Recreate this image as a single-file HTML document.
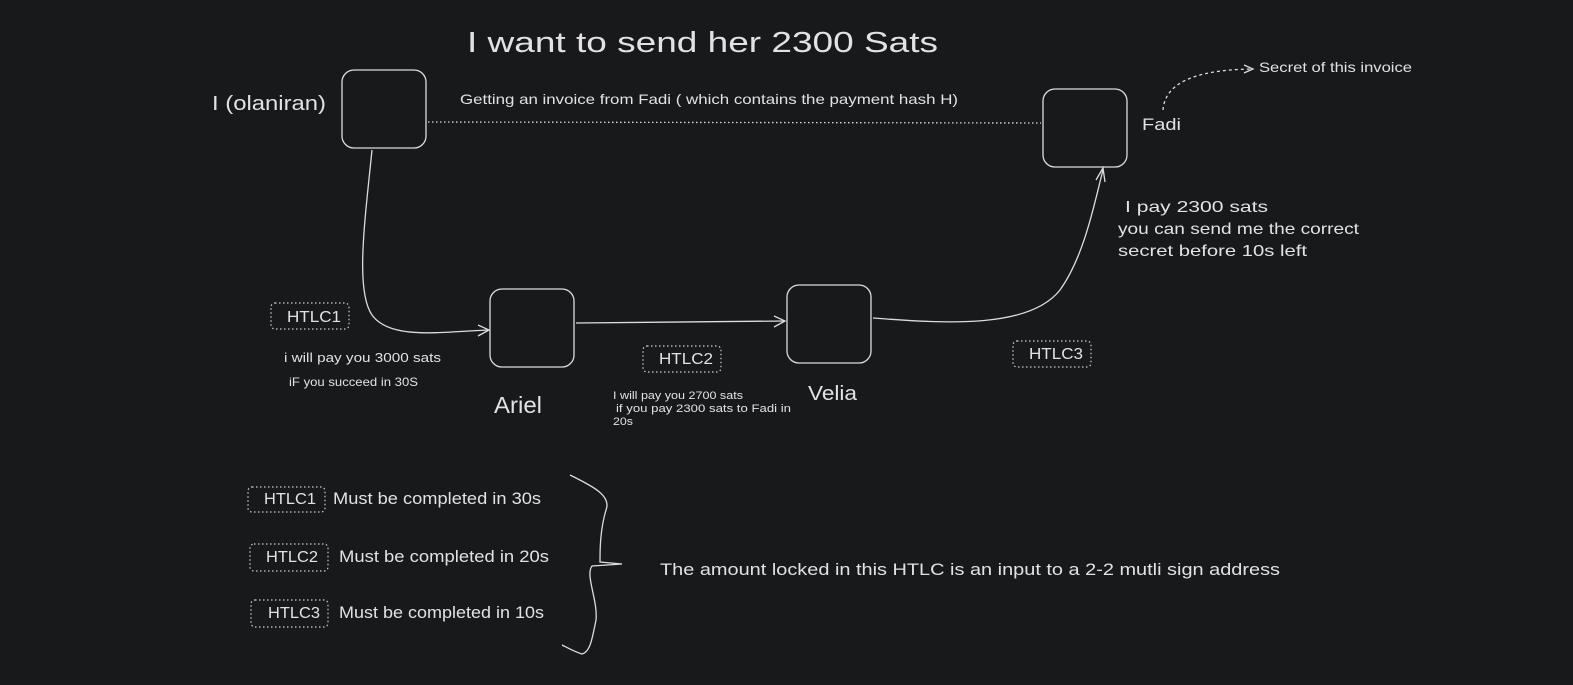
<!DOCTYPE html>
<html><head><style>
html,body{margin:0;padding:0;background:#18191b;}
svg{display:block}
text{font-family:"Liberation Sans",sans-serif;fill:#e2e2e2;}
</style></head><body>
<svg width="1573" height="685" viewBox="0 0 1573 685" xmlns="http://www.w3.org/2000/svg">
<rect width="1573" height="685" fill="#18191b"/>
<g fill="none" stroke="#dcdcdc" stroke-width="1.3">
<rect x="342" y="70" width="84" height="78" rx="12"/>
<rect x="1043" y="89" width="84" height="78" rx="12"/>
<rect x="490" y="289" width="84" height="78" rx="12"/>
<rect x="787" y="285" width="84" height="78" rx="12"/>
<path d="M428 122 L1041 123" stroke-dasharray="1.5 2.5"/>
<path d="M372 150 C365 220,355 290,372 315 C390 340,440 332,488 330"/>
<path d="M478 325 L489 330 L478 336"/>
<path d="M576 323 L785 321"/>
<path d="M774 316 L785 321 L774 327"/>
<path d="M873 318 C950 324,1030 328,1060 290 C1085 255,1095 200,1103 170"/>
<path d="M1096 180 L1103 168 L1105 182"/>
<path d="M1163 110 C1165 85,1190 70,1252 69" stroke-dasharray="3 3"/>
<path d="M1244 65 L1253 69 L1244 73"/>
<path d="M570 475 C590 485,612 495,606 510 C600 530,600 550,600 562 L622 564 L592 566 C585 575,598 600,596 620 C592 640,590 652,582 654 C575 652,568 648,562 645"/>
</g>
<g fill="none" stroke="#cfcfcf" stroke-width="1.2" stroke-dasharray="1.5 2.5">
<rect x="271" y="303" width="78" height="26" rx="4"/>
<rect x="643" y="346" width="78" height="26" rx="4"/>
<rect x="1013" y="341" width="78" height="26" rx="4"/>
<rect x="248" y="487" width="77" height="25" rx="4"/>
<rect x="250" y="544" width="78" height="27" rx="4"/>
<rect x="251" y="600" width="77" height="27" rx="4"/>
</g>
<g lengthAdjust="spacingAndGlyphs">
<text x="467" y="52" font-size="29" textLength="471" lengthAdjust="spacingAndGlyphs">I want to send her 2300 Sats</text>
<text x="212" y="110" font-size="20" textLength="114" lengthAdjust="spacingAndGlyphs">I (olaniran)</text>
<text x="460" y="104" font-size="14" textLength="498" lengthAdjust="spacingAndGlyphs">Getting an invoice from Fadi ( which contains the payment hash H)</text>
<text x="1142" y="130" font-size="17" textLength="39" lengthAdjust="spacingAndGlyphs">Fadi</text>
<text x="1259" y="72" font-size="14" textLength="153" lengthAdjust="spacingAndGlyphs">Secret of this invoice</text>
<text x="1125" y="212" font-size="16" textLength="143" lengthAdjust="spacingAndGlyphs">I pay 2300 sats</text>
<text x="1118" y="234" font-size="16" textLength="241" lengthAdjust="spacingAndGlyphs">you can send me the correct</text>
<text x="1118" y="256" font-size="16" textLength="189" lengthAdjust="spacingAndGlyphs">secret before 10s left</text>
<text x="287" y="322" font-size="16" textLength="54" lengthAdjust="spacingAndGlyphs">HTLC1</text>
<text x="659" y="364" font-size="16" textLength="54" lengthAdjust="spacingAndGlyphs">HTLC2</text>
<text x="1029" y="359" font-size="16" textLength="54" lengthAdjust="spacingAndGlyphs">HTLC3</text>
<text x="284" y="362" font-size="13" textLength="157" lengthAdjust="spacingAndGlyphs">i  will pay you 3000 sats</text>
<text x="289" y="386" font-size="12" textLength="129" lengthAdjust="spacingAndGlyphs">iF you succeed in 30S</text>
<text x="494" y="413" font-size="23" textLength="48" lengthAdjust="spacingAndGlyphs">Ariel</text>
<text x="808" y="400" font-size="20" textLength="49" lengthAdjust="spacingAndGlyphs">Velia</text>
<text x="613" y="399" font-size="11" textLength="130" lengthAdjust="spacingAndGlyphs">I will pay you 2700 sats</text>
<text x="616" y="412" font-size="11" textLength="175" lengthAdjust="spacingAndGlyphs">if you pay 2300 sats to  Fadi in</text>
<text x="613" y="425" font-size="11" textLength="20" lengthAdjust="spacingAndGlyphs">20s</text>
<text x="264" y="504" font-size="16" textLength="52" lengthAdjust="spacingAndGlyphs">HTLC1</text>
<text x="333" y="504" font-size="17" textLength="208" lengthAdjust="spacingAndGlyphs">Must be completed in 30s</text>
<text x="266" y="562" font-size="16" textLength="52" lengthAdjust="spacingAndGlyphs">HTLC2</text>
<text x="339" y="562" font-size="17" textLength="210" lengthAdjust="spacingAndGlyphs">Must be completed in 20s</text>
<text x="268" y="618" font-size="16" textLength="52" lengthAdjust="spacingAndGlyphs">HTLC3</text>
<text x="339" y="618" font-size="17" textLength="205" lengthAdjust="spacingAndGlyphs">Must be completed in 10s</text>
<text x="660" y="575" font-size="17" textLength="620" lengthAdjust="spacingAndGlyphs">The amount locked in this HTLC is an input to a 2-2 mutli sign address</text>
</g>
</svg>
</body></html>
